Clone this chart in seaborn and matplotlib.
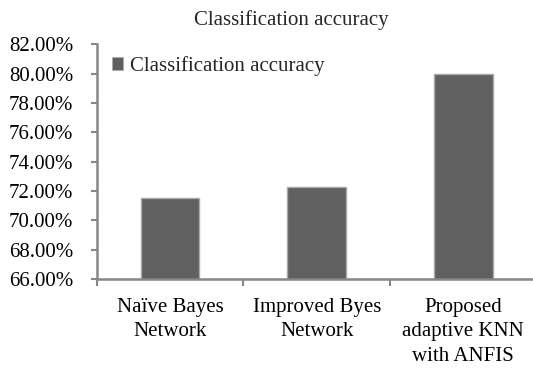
import matplotlib
matplotlib.use("Agg")
import matplotlib.pyplot as plt
import seaborn as sns
from matplotlib.ticker import PercentFormatter, FixedLocator
from matplotlib.patches import Patch

categories = ["Naïve Bayes\nNetwork", "Improved Byes\nNetwork", "Proposed\nadaptive KNN\nwith ANFIS"]
accuracy = [0.715, 0.7225, 0.800]
series_name = "Classification accuracy"
title = "Classification accuracy"

sns.set_theme(style="white")
plt.rcParams["font.family"] = ["Liberation Serif", "DejaVu Serif"]
plt.rcParams["font.size"] = 15

W, H = 533, 373
fig = plt.figure(figsize=(W / 100, H / 100), dpi=100)
ax = fig.add_axes([96.7 / W, (H - 279) / H, 440 / W, 234.7 / H])

bar_color = "#606060"
sns.barplot(x=categories, y=accuracy, color=bar_color, width=0.4,
            edgecolor="#a8a8a8", linewidth=1.0, saturation=1, ax=ax)

ax.set_ylim(0.66, 0.82)
ax.set_xlim(-0.5, 2.5)
ax.yaxis.set_major_formatter(PercentFormatter(1.0, decimals=2))
ax.set_yticks([0.66 + 0.02 * i for i in range(9)])

axis_col = "#878787"
for s in ["top", "right"]:
    ax.spines[s].set_visible(False)
for s in ["left", "bottom"]:
    ax.spines[s].set_color(axis_col)
    ax.spines[s].set_linewidth(1.8)

ax.tick_params(axis="y", which="major", left=True, length=4, width=1.5,
               color=axis_col, pad=13, labelsize=15, labelcolor="black")
ax.tick_params(axis="x", which="major", length=0, pad=14, labelsize=15, labelcolor="black")
ax.xaxis.set_minor_locator(FixedLocator([-0.5, 0.5, 1.5, 2.5]))
ax.tick_params(axis="x", which="minor", bottom=True, length=5, width=1.5, color=axis_col)
for lab in ax.get_xticklabels():
    lab.set_linespacing(1.36)
ax.set_xlabel("")
ax.set_ylabel("")

handle = Patch(facecolor=bar_color, edgecolor="#a8a8a8", linewidth=0.5)
ax.legend([handle], [series_name], loc="center left", frameon=False,
          bbox_to_anchor=(112 / W, 1 - 66 / H), bbox_transform=fig.transFigure,
          handlelength=0.55, handleheight=0.55, handletextpad=0.3,
          borderpad=0, borderaxespad=0, fontsize=15)

fig.text(291 / W, 1 - 20 / H, title, ha="center", va="center", fontsize=15)

fig.savefig("out.png", dpi=100)
